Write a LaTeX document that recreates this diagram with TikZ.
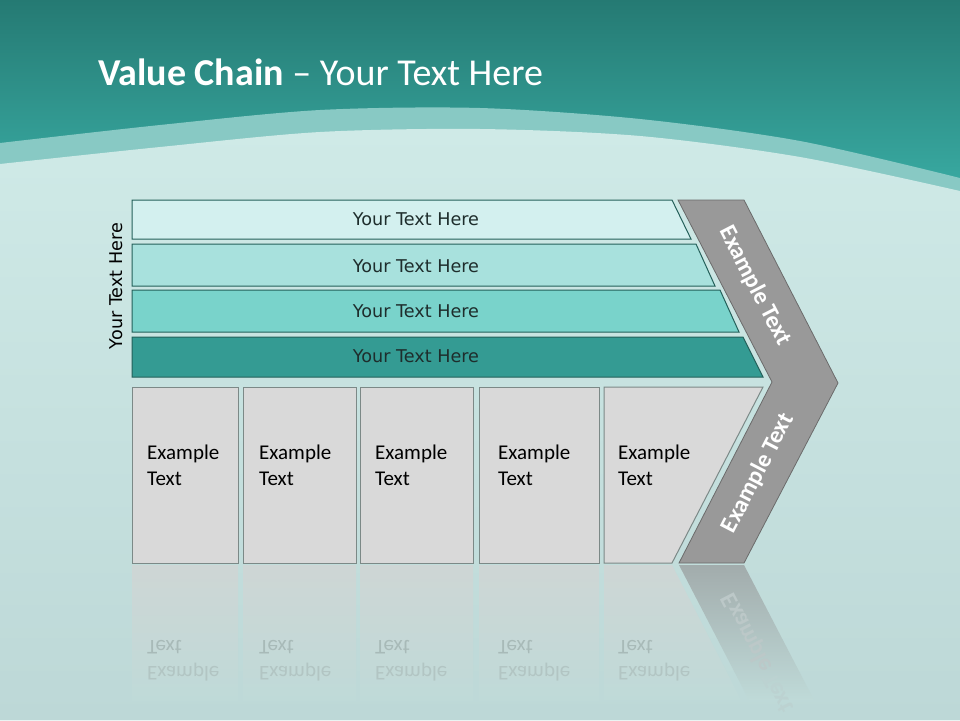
\documentclass[tikz,border=0pt]{standalone}
\usepackage{fontspec}
\setmainfont{Carlito}
\newfontfamily\dejavu{DejaVu Sans}
\definecolor{tealtop}{HTML}{257A73}
\definecolor{tealbot}{HTML}{3AADA5}
\definecolor{bandc}{HTML}{88C9C4}
\definecolor{lighttop}{HTML}{CFEAE7}
\definecolor{lightmid}{HTML}{C5E2DF}
\definecolor{lightbot}{HTML}{BDD8D7}
\definecolor{barone}{HTML}{D3F0EF}
\definecolor{bartwo}{HTML}{A8E1DD}
\definecolor{barthree}{HTML}{79D3CB}
\definecolor{barfour}{HTML}{349B93}
\definecolor{bardraw}{HTML}{24605A}
\definecolor{bartxt}{HTML}{1E2D2C}
\definecolor{boxfill}{HTML}{D9D9D9}
\definecolor{boxdraw}{HTML}{7C8987}
\definecolor{chevfill}{HTML}{999999}
\definecolor{chevdraw}{HTML}{6B6B6B}
\definecolor{refltop}{HTML}{CED6D5}
\definecolor{reflbot}{HTML}{BFDAD8}
\definecolor{reflchev}{HTML}{A2ACAC}
\definecolor{refltxta}{HTML}{A8BAB8}
\definecolor{refltxtb}{HTML}{B2C5C3}
\definecolor{reflchevtxt}{HTML}{BCC8C8}
\definecolor{reflchevtxtb}{HTML}{BCD2D1}
\begin{document}
\begin{tikzpicture}[x=1pt,y=-1pt,
  bar/.style={draw=bardraw, line width=1pt},
  bartext/.style={font=\dejavu\fontsize{17.6}{21}\selectfont, text=bartxt},
  boxshape/.style={draw=boxdraw, fill=boxfill, line width=1pt},
  boxtext/.style={font=\fontsize{21}{26}\selectfont, align=left, anchor=west, text=black, inner sep=0pt},
  chevtext/.style={font=\bfseries\fontsize{24}{28}\selectfont, text=white, inner sep=0pt},
  refltext/.style={font=\fontsize{21}{26}\selectfont, align=left, anchor=west, inner sep=0pt, yscale=-1}
]
\useasboundingbox (0,0) rectangle (960,720);
% background
\shade[top color=tealtop, bottom color=tealbot] (0,0) rectangle (960,200);
\fill[bandc] plot[smooth] coordinates {(0,143) (160,125) (320,110) (480,108) (640,119) (800,141) (960,178)} -- (960,720) -- (0,720) -- cycle;
\shade[top color=lighttop, middle color=lightmid, bottom color=lightbot] plot[smooth] coordinates {(0,164) (160,147) (320,132) (480,129) (640,136) (800,157) (960,191)} -- (960,720) -- (0,720) -- cycle;

% title
\node[anchor=base west, inner sep=0pt, text=white, font=\fontsize{38}{42}\selectfont] (title) at (98,85) {\textbf{Value Chain} – Your Text Here};

% side label
\node[rotate=90, bartext, text=black] (side) at (116,286) {Your Text Here};

% bars
\filldraw[bar, fill=barone] (132,200) -- (672,200) -- (691,239) -- (132,239) -- cycle;
\filldraw[bar, fill=bartwo] (132,244) -- (696,244) -- (715,286) -- (132,286) -- cycle;
\filldraw[bar, fill=barthree] (132,290) -- (720,290) -- (739,332) -- (132,332) -- cycle;
\filldraw[bar, fill=barfour] (132,337) -- (743,337) -- (763,377) -- (132,377) -- cycle;
\node[bartext] (t1) at (416,219) {Your Text Here};
\node[bartext] (t2) at (416,266) {Your Text Here};
\node[bartext] (t3) at (416,311) {Your Text Here};
\node[bartext] (t4) at (416,356) {Your Text Here};

% reflections
\shade[top color=refltop, bottom color=reflbot] (132,565) rectangle (238,700);
\shade[top color=refltop, bottom color=reflbot] (243,565) rectangle (356,700);
\shade[top color=refltop, bottom color=reflbot] (360,565) rectangle (473,700);
\shade[top color=refltop, bottom color=reflbot] (479,565) rectangle (599,700);
\shade[top color=refltop, bottom color=reflbot] (604,565) -- (672,565) -- (741,700) -- (604,700) -- cycle;
\shade[top color=reflchev, bottom color=reflbot] (679,565) -- (744,565) -- (814,700) -- (749,700) -- cycle;
\node[refltext] (r1) at (147,661) {{\color{refltxtb}Example}\\{\color{refltxta}Text}};
\node[refltext] (r2) at (259,661) {{\color{refltxtb}Example}\\{\color{refltxta}Text}};
\node[refltext] (r3) at (375,661) {{\color{refltxtb}Example}\\{\color{refltxta}Text}};
\node[refltext] (r4) at (498,661) {{\color{refltxtb}Example}\\{\color{refltxta}Text}};
\node[refltext] (r5) at (618,661) {{\color{refltxtb}Example}\\{\color{refltxta}Text}};
\node[chevtext, rotate=-62.7, yscale=-1] (rc) at (758,653) {{\color{reflchevtxt}Example} {\color{reflchevtxtb}Text}};

% boxes
\filldraw[boxshape] (132,387) rectangle (238,563);
\filldraw[boxshape] (243,387) rectangle (356,563);
\filldraw[boxshape] (360,387) rectangle (473,563);
\filldraw[boxshape] (479,387) rectangle (599,563);
\filldraw[boxshape] (604,387) -- (763,387) -- (672,563) -- (604,563) -- cycle;
\node[boxtext] (e1) at (147,465) {Example\\Text};
\node[boxtext] (e2) at (259,465) {Example\\Text};
\node[boxtext] (e3) at (375,465) {Example\\Text};
\node[boxtext] (e4) at (498,465) {Example\\Text};
\node[boxtext] (e5) at (618,465) {Example\\Text};

% chevron
\filldraw[fill=chevfill, draw=chevdraw, line width=0.8pt] (678,200) -- (744,200) -- (838,383) -- (744,563) -- (679,563) -- (772,382) -- cycle;
\node[chevtext, rotate=-62.7] (c1) at (755,286) {Example Text};
\node[chevtext, rotate=62.7] (c2) at (758,473) {Example Text};
\end{tikzpicture}
\end{document}
